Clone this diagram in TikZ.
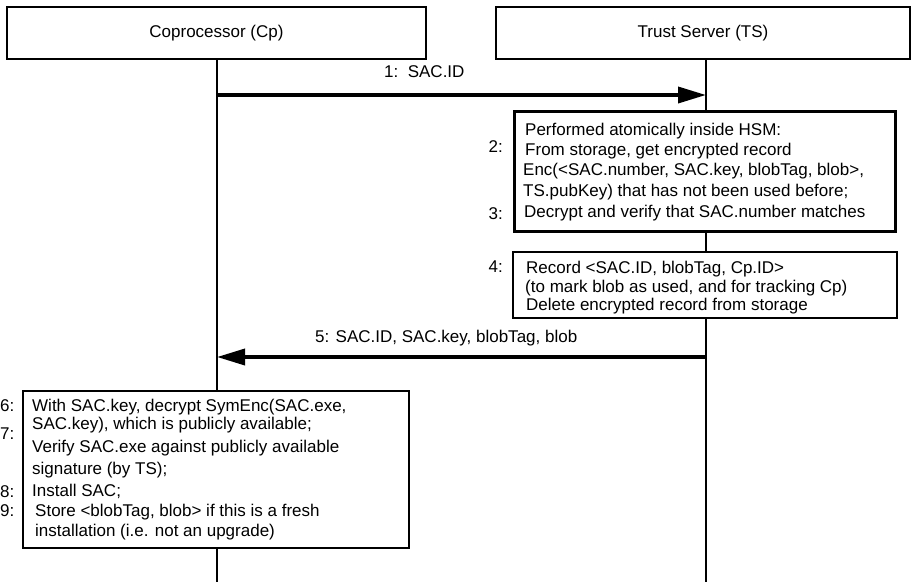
\documentclass[tikz,border=0pt]{standalone}
\usepackage{fontspec}
\setmainfont{Liberation Sans}
\usetikzlibrary{arrows.meta}
\begin{document}
\begin{tikzpicture}[x=1pt,y=-1pt,
  every node/.style={font=\fontsize{17}{20}\selectfont},
  txt/.style={anchor=west, inner sep=0pt, text height=12.5pt, text depth=3.5pt},
  num/.style={anchor=east, inner sep=0pt, text height=12.5pt, text depth=3.5pt},
  head/.style={draw, line width=1.1pt, inner sep=0pt, minimum height=52pt},
  stepbox/.style={draw, line width=1.1pt, inner sep=0pt},
  heavybox/.style={draw, line width=3.6pt, inner sep=0pt},
  life/.style={line width=1.1pt},
  msg/.style={line width=3.6pt, -{Triangle[length=28pt,width=16pt]}}]
\useasboundingbox (0,0) rectangle (913,582);

% participants
\node[head, minimum width=419pt] (cp) at (216.5,33) {Coprocessor (Cp)};
\node[head, minimum width=414pt] (ts) at (703,33) {Trust Server (TS)};

% activity boxes
\node[heavybox, minimum width=381pt, minimum height=120pt] (hsm) at (705,171.5) {};
\node[stepbox, minimum width=384pt, minimum height=66pt] (rec) at (705,285) {};
\node[stepbox, minimum width=386pt, minimum height=157pt] (inst) at (216,469.5) {};

% lifelines
\coordinate (cptop) at (217,59);
\coordinate (tstop) at (706,59);
\coordinate (cpend) at (217,582);
\coordinate (tsend) at (706,582);
\draw[life] (cptop) -- (inst.north -| cptop);
\draw[life] (inst.south -| cptop) -- (cpend);
\draw[life] (tstop) -- (hsm.north -| tstop);
\draw[life] (hsm.south -| tstop) -- (rec.north -| tstop);
\draw[life] (rec.south -| tstop) -- (tsend);

% messages
\coordinate (m1a) at (217,95);
\coordinate (m1b) at (706,95);
\draw[msg] (m1a) -- (m1b);
\node[txt] (m1) at (384,73) {1:\ \ SAC.ID};

\coordinate (m5a) at (706,357);
\coordinate (m5b) at (217,357);
\draw[msg] (m5a) -- (m5b);
\node[txt] (m5) at (315,338) {5: SAC.ID, SAC.key, blobTag, blob};

% steps 2-3
\node[num] (n2) at (503,148) {2:};
\node[num] (n3) at (503,215) {3:};
\node[txt] (h1) at (525,131) {Performed atomically inside HSM:};
\node[txt] (h2) at (525,151) {From storage, get encrypted record};
\node[txt] (h3) at (523,171) {Enc(<SAC.number, SAC.key, blobTag, blob>,};
\node[txt] (h4) at (523,192) {TS.pubKey) that has not been used before;};
\node[txt] (h5) at (524,213) {Decrypt and verify that SAC.number matches};

% step 4
\node[num] (n4) at (503,268) {4:};
\node[txt] (r1) at (526,269) {Record <SAC.ID, blobTag, Cp.ID>};
\node[txt] (r2) at (525,288) {(to mark blob as used, and for tracking Cp)};
\node[txt] (r3) at (526,306) {Delete encrypted record from storage};

% steps 6-9
\node[num] (n6) at (14.5,407) {6:};
\node[num] (n7) at (14.5,435) {7:};
\node[num] (n8) at (14.5,493) {8:};
\node[num] (n9) at (14.5,512) {9:};
\node[txt] (i1) at (32,407) {With SAC.key, decrypt SymEnc(SAC.exe,};
\node[txt] (i2) at (32,425) {SAC.key), which is publicly available;};
\node[txt] (i3) at (32,448) {Verify SAC.exe against publicly available};
\node[txt] (i4) at (32,470) {signature (by TS);};
\node[txt] (i5) at (32,492) {Install SAC;};
\node[txt] (i6) at (35,512) {Store <blobTag, blob> if this is a fresh};
\node[txt] (i7) at (35,532) {installation (i.e. not an upgrade)};
\end{tikzpicture}
\end{document}
